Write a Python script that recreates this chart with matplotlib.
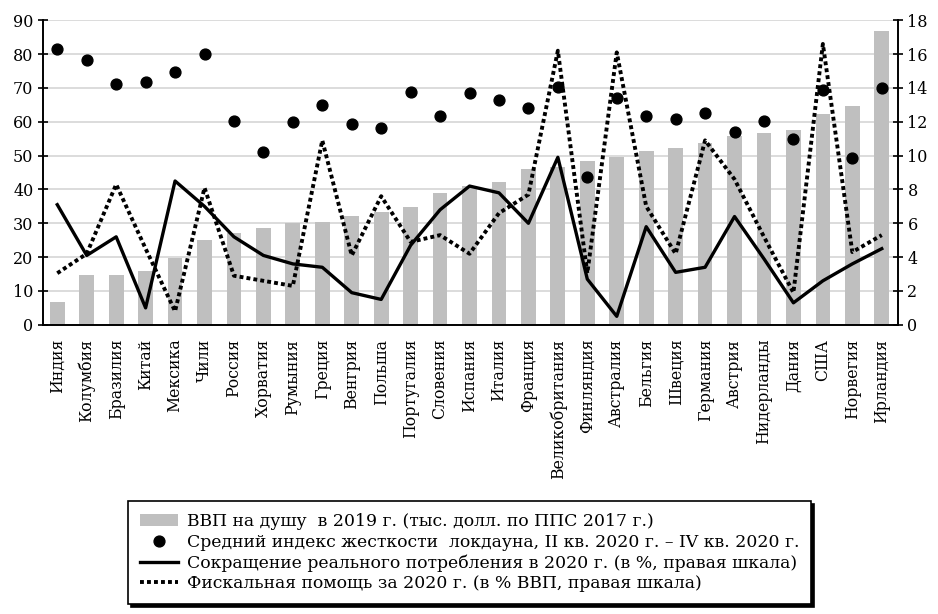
import numpy as np
import matplotlib.pyplot as plt

# страны
countries = ['Индия', 'Колумбия', 'Бразилия', 'Китай', 'Мексика', 'Чили', 'Россия',
             'Хорватия', 'Румыния', 'Греция', 'Венгрия', 'Польша', 'Португалия',
             'Словения', 'Испания', 'Италия', 'Франция', 'Великобритания', 'Финляндия',
             'Австралия', 'Бельгия', 'Швеция', 'Германия', 'Австрия', 'Нидерланды',
             'Дания', 'США', 'Норвегия', 'Ирландия']

# ВВП на душу (левая шкала)
gdp = [6.6, 14.8, 14.8, 16.0, 19.6, 25.2, 27.2, 28.6, 30.0, 30.5, 32.2, 33.3, 34.8,
       39.0, 41.0, 42.3, 46.0, 46.7, 48.5, 49.7, 51.3, 52.3, 53.8, 55.9, 56.7,
       57.6, 62.3, 64.6, 86.8]

# индекс жесткости локдауна (левая шкала)
stringency = [81.4, 78.4, 71.2, 71.7, 74.6, 79.9, 60.3, 51.1, 59.8, 64.9, 59.2, 58.3,
              68.8, 61.7, 68.4, 66.5, 64.1, 70.2, 43.6, 66.9, 61.7, 60.8, 62.6, 56.9,
              60.3, 55.0, 69.3, 49.2, 69.9]

# сокращение потребления (правая шкала)
consumption = [7.1, 4.1, 5.2, 1.0, 8.5, 7.0, 5.2, 4.1, 3.6, 3.4, 1.9, 1.5, 4.7, 6.8,
               8.2, 7.8, 6.0, 9.9, 2.7, 0.5, 5.8, 3.1, 3.4, 6.4, 3.9, 1.3, 2.6, 3.6, 4.5]

# фискальная помощь (правая шкала)
fiscal = [3.05, 4.2, 8.3, 4.5, 0.8, 8.1, 2.9, 2.6, 2.3, 10.9, 4.1, 7.6, 4.9, 5.3, 4.2,
          6.6, 7.7, 16.2, 3.05, 16.1, 7.0, 4.2, 10.9, 8.6, 5.2, 1.9, 16.6, 4.3, 5.3]

plt.rcParams['font.family'] = ['DejaVu Serif']

x = np.arange(len(countries))

fig = plt.figure(figsize=(9.38, 6.14), dpi=100)
ax = fig.add_axes([0.046, 0.471, 0.911, 0.496])

ax.set_axisbelow(True)
ax.yaxis.grid(True, color='#d9d9d9', lw=1.3)
bars = ax.bar(x, gdp, width=0.5, color='#bfbfbf', label='ВВП на душу  в 2019 г. (тыс. долл. по ППС 2017 г.)')

ax2 = ax.twinx()
l1, = ax2.plot(x, consumption, color='black', lw=2.4,
               label='Сокращение реального потребления в 2020 г. (в %, правая шкала)')
l2, = ax2.plot(x, fiscal, color='black', lw=2.8, linestyle=(0, (1, 0.8)),
               label='Фискальная помощь за 2020 г. (в % ВВП, правая шкала)')
dots, = ax2.plot(x, np.array(stringency) / 5, 'o', color='black', ms=7.8,
                 label='Средний индекс жесткости  локдауна, II кв. 2020 г. – IV кв. 2020 г.')

ax.set_ylim(0, 90)
ax2.set_ylim(0, 18)
ax.set_yticks(np.arange(0, 91, 10))
ax2.set_yticks(np.arange(0, 19, 2))
ax.set_xlim(-0.48, 28.54)

ax.set_xticks(x)
ax.set_xticklabels(countries, rotation=90, fontsize=11.3)
ax.tick_params(axis='x', length=0, pad=10)
ax.tick_params(axis='y', direction='inout', length=7, width=1.2, labelsize=11.5)
ax2.tick_params(axis='y', direction='inout', length=7, width=1.2, labelsize=11.5)

for a in (ax, ax2):
    a.spines['top'].set_visible(False)
    for s in ('left', 'right', 'bottom'):
        a.spines[s].set_linewidth(1.2)
        a.spines[s].set_color('black')

leg = fig.legend([bars, dots, l1, l2],
                 [bars.get_label(), dots.get_label(), l1.get_label(), l2.get_label()],
                 loc='center', bbox_to_anchor=(0.501, 0.10), ncol=1,
                 prop={'family': 'DejaVu Serif', 'size': 12.4},
                 frameon=True, fancybox=False, edgecolor='black',
                 shadow={'color': 'black', 'alpha': 1},
                 handlelength=2.2, handletextpad=0.5, labelspacing=0.2,
                 borderpad=0.7, borderaxespad=0)
leg.get_frame().set_linewidth(1.2)

plt.savefig('out.png', dpi=100)
